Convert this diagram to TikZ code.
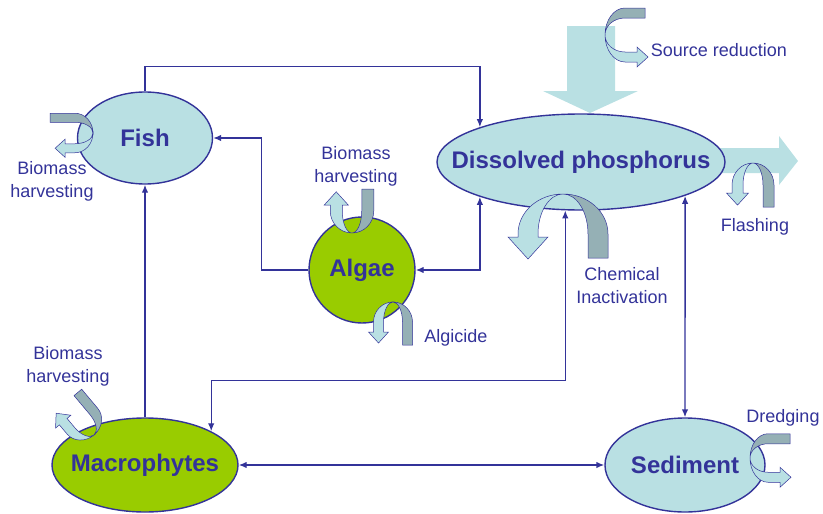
\documentclass[tikz,border=0pt]{standalone}
\usepackage{fontspec}
\setmainfont{Liberation Sans}
\usetikzlibrary{arrows.meta,shapes.geometric}
\definecolor{navy}{HTML}{333399}
\definecolor{pale}{HTML}{B9E0E3}
\definecolor{leaf}{HTML}{99CC00}
\definecolor{slate}{HTML}{95B0B5}

\tikzset{
  bubble/.style={ellipse, draw=navy, line width=1.4pt, fill=pale, inner sep=0pt},
  bubbletext/.style={text=navy, font=\fontsize{24}{28}\selectfont\bfseries},
  note/.style={text=navy, font=\fontsize{18}{23}\selectfont, align=center, inner sep=0pt},
  link/.style={draw=navy, line width=1.4pt, -{Latex[length=8pt,width=6.5pt]}},
  twoway/.style={link, {Latex[length=8pt,width=6.5pt]}-{Latex[length=8pt,width=6.5pt]}},
  bigflow/.style={fill=pale},
  curlback/.style={fill=slate, draw=navy, line width=0.5pt},
  curlfront/.style={fill=pale, draw=navy, line width=0.5pt}
}

% bent ribbon, drawn as a cap with legs down: placement, half span, bend, width, back leg, front leg
\newcommand{\ribbon}[6]{%
  \begin{scope}[#1]
    \pgfmathsetmacro{\bandout}{#2+#4/2}\pgfmathsetmacro{\bandin}{#2-#4/2}
    \filldraw[curlback] (0,0) arc[start angle=90, end angle=0, x radius=\bandout, y radius=#3]
      -- ++(0,-#5) -- ++(-#4,0) -- ++(0,#5)
      arc[start angle=0, end angle=90, x radius=\bandin, y radius=#3] -- cycle;
    \filldraw[curlfront] (0,0) arc[start angle=90, end angle=180, x radius=\bandout, y radius=#3]
      -- ++(0,-#6) -- ++(-#4/2,0) -- ({-#2},{-#3-#6-1.1*#4})
      -- ({-#2+#4},{-#3-#6}) -- ({-\bandin},{-#3-#6}) -- ({-\bandin},{-#3})
      arc[start angle=180, end angle=90, x radius=\bandin, y radius=#3] -- cycle;
  \end{scope}}

\begin{document}
\begin{tikzpicture}[x=1pt,y=1pt]
  \path[use as bounding box] (0,-514) rectangle (823,0);

  % inflow and outflow
  \fill[bigflow] (567,-26) -- (615,-26) -- (615,-91) -- (638,-91) -- (590,-113) -- (543,-91) -- (567,-91) -- cycle;
  \fill[bigflow] (700,-148) -- (779,-148) -- (779,-136) -- (798,-161) -- (779,-185) -- (779,-173) -- (700,-173) -- cycle;

  \node[bubble, minimum width=135, minimum height=92, label={[bubbletext]center:Fish}] (fish) at (145,-138) {};
  \node[bubble, minimum width=288, minimum height=96, label={[bubbletext]center:Dissolved phosphorus}] (dp) at (581,-162) {};
  \node[bubble, circle, fill=leaf, minimum size=106, label={[bubbletext]center:Algae}] (algae) at (362,-270) {};
  \node[bubble, fill=leaf, minimum width=186, minimum height=94, label={[bubbletext]center:Macrophytes}] (macro) at (145,-465) {};
  \node[bubble, minimum width=160, minimum height=94, label={[bubbletext]center:Sediment}] (sed) at (685,-465) {};

  \draw[link] (fish.north) -- ++(0,25) -| (dp.161);
  \draw[link] (algae.west) -- ++(-47,0) |- (fish.east);
  \draw[twoway] (algae.east) -| (dp.199);
  \draw[twoway] (dp.252) -- ++(0,-170) -| (macro.27);
  \draw[twoway] (dp.342) -- (sed.north);
  \draw[twoway] (macro.east) -- (sed.west);
  \draw[link] (macro.north) -- (fish.south);

  % management measures
  \ribbon{shift={(93,-133)}, rotate=-90, xscale=-1}{15.25}{18}{9}{25}{10}
  \ribbon{shift={(352,-233)}, yscale=-1}{15.75}{22}{12}{22}{6}
  \ribbon{shift={(393,-302)}}{14.5}{20}{10}{23}{10}
  \ribbon{shift={(563,-194)}}{35}{40}{20}{24}{3}
  \ribbon{shift={(753,-163)}}{15.5}{22}{11}{22}{8}
  \ribbon{shift={(605,-35)}, rotate=90}{22}{20}{10}{20}{12}
  \ribbon{shift={(94,-435)}, rotate=40, yscale=-1}{15}{18}{10}{25}{12}
  \ribbon{shift={(750,-458)}, rotate=90}{19.25}{18}{10}{22}{12}

  \node[note] (fishcut) at (52,-181) {Biomass\\harvesting};
  \node[note] (algaecut) at (356,-166) {Biomass\\harvesting};
  \node[note] (algicide) at (456,-338) {Algicide};
  \node[note] (chemcut) at (622,-286) {Chemical\\Inactivation};
  \node[note] (flashcut) at (755,-227) {Flashing};
  \node[note] (sourcecut) at (719,-50) {Source reduction};
  \node[note] (dredgecut) at (783,-418) {Dredging};
  \node[note] (macrocut) at (68,-366) {Biomass\\harvesting};
\end{tikzpicture}
\end{document}
